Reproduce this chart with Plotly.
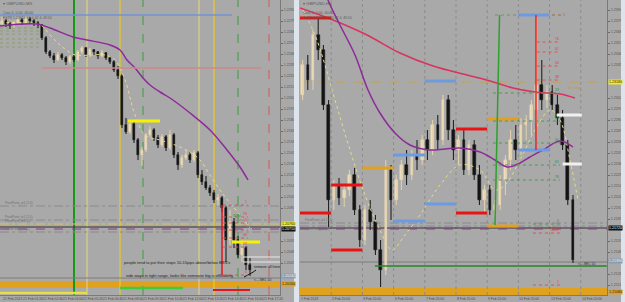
import plotly.graph_objects as go

# ================= LEFT PANEL : GBPUSD, M5 =================
L_open = [
    1.2276, 1.2279, 1.2276, 1.2274, 1.2277, 1.2280, 1.2278, 1.2281, 1.2279, 1.2277,
    1.2275, 1.2262, 1.2248, 1.2244, 1.2240, 1.2245, 1.2242, 1.2238, 1.2243, 1.2240,
    1.2248, 1.2252, 1.2245, 1.2250, 1.2248, 1.2244, 1.2247, 1.2242, 1.2238, 1.2230,
    1.2224, 1.2175, 1.2168, 1.2176, 1.2160, 1.2145, 1.2150, 1.2165, 1.2170, 1.2162,
    1.2155, 1.2163, 1.2152, 1.2165, 1.2145, 1.2135, 1.2142, 1.2145, 1.2140, 1.2147,
    1.2125, 1.2118, 1.2112, 1.2107, 1.2100, 1.2102, 1.2092, 1.2060, 1.2078, 1.2060,
    1.2045, 1.2052, 1.2035]
L_high = [
    1.2283, 1.2281, 1.2278, 1.2279, 1.2283, 1.2282, 1.2284, 1.2283, 1.2281, 1.2279,
    1.2276, 1.2264, 1.2250, 1.2247, 1.2248, 1.2247, 1.2244, 1.2245, 1.2245, 1.2250,
    1.2254, 1.2253, 1.2252, 1.2251, 1.2249, 1.2250, 1.2248, 1.2244, 1.2240, 1.2234,
    1.2226, 1.2182, 1.2180, 1.2178, 1.2162, 1.2153, 1.2167, 1.2174, 1.2172, 1.2165,
    1.2166, 1.2165, 1.2170, 1.2167, 1.2148, 1.2145, 1.2150, 1.2148, 1.2150, 1.2149,
    1.2130, 1.2124, 1.2115, 1.2110, 1.2106, 1.2104, 1.2094, 1.2090, 1.2082, 1.2064,
    1.2057, 1.2054, 1.2042]
L_low = [
    1.2274, 1.2273, 1.2271, 1.2272, 1.2276, 1.2275, 1.2277, 1.2276, 1.2274, 1.2272,
    1.2260, 1.2246, 1.2242, 1.2237, 1.2239, 1.2240, 1.2235, 1.2236, 1.2238, 1.2239,
    1.2246, 1.2243, 1.2243, 1.2245, 1.2241, 1.2243, 1.2240, 1.2236, 1.2228, 1.2221,
    1.2172, 1.2166, 1.2166, 1.2157, 1.2140, 1.2134, 1.2148, 1.2163, 1.2159, 1.2152,
    1.2153, 1.2149, 1.2150, 1.2142, 1.2130, 1.2132, 1.2140, 1.2137, 1.2138, 1.2122,
    1.2115, 1.2110, 1.2104, 1.2097, 1.2094, 1.2088, 1.2038, 1.2055, 1.2052, 1.2042,
    1.2038, 1.2030, 1.2024]
L_close = [
    1.2279, 1.2276, 1.2274, 1.2277, 1.2280, 1.2278, 1.2281, 1.2279, 1.2277, 1.2275,
    1.2262, 1.2248, 1.2244, 1.2240, 1.2245, 1.2242, 1.2238, 1.2243, 1.2240, 1.2248,
    1.2252, 1.2245, 1.2250, 1.2248, 1.2244, 1.2247, 1.2242, 1.2238, 1.2230, 1.2224,
    1.2175, 1.2168, 1.2176, 1.2160, 1.2145, 1.2150, 1.2165, 1.2170, 1.2162, 1.2155,
    1.2163, 1.2152, 1.2165, 1.2145, 1.2135, 1.2142, 1.2145, 1.2140, 1.2147, 1.2125,
    1.2118, 1.2112, 1.2107, 1.2100, 1.2102, 1.2092, 1.2060, 1.2078, 1.2060, 1.2045,
    1.2052, 1.2035, 1.2030]

# moving averages (bar position, price)
L_ma_slow_x = [-0.5, 8.75, 12, 17.75, 21.25, 27, 29.5, 31.25, 33.25, 35.25, 37, 39.5, 42, 47, 52, 56.25, 59.5, 61.5]
L_ma_slow_y = [1.2274, 1.2276, 1.2272, 1.2263, 1.2260, 1.2255, 1.2250, 1.2240, 1.2232, 1.2222, 1.2215,
               1.2208, 1.2202, 1.2187, 1.2170, 1.2150, 1.2133, 1.2120]
L_ma_fast_x = [-0.5, 9.5, 12, 14.5, 18.25, 22, 25.75, 28.25, 30.75, 33.25, 35.75, 39.5, 43.25, 47, 49.5,
               52, 54.5, 57, 59.5, 62]
L_ma_fast_y = [1.2277, 1.2275, 1.2265, 1.2255, 1.2245, 1.2245, 1.2245, 1.2240, 1.2220, 1.2185, 1.2165,
               1.2160, 1.2155, 1.2148, 1.2140, 1.2125, 1.2110, 1.2097, 1.2085, 1.2072]

# horizontal segments
L_seg_x0 = [-0.5, 10.0, 31.5, 57.5, 60.25, 60.25, 29.5, -0.5, 52.75]
L_seg_x1 = [57.5, 64.75, 39.5, 64.5, 69.5, 69.5, 45.25, 21.25, 62.0]
L_seg_y = [1.2285, 1.2232, 1.2179, 1.2058, 1.2043, 1.2038, 1.2012, 1.2007, 1.2010]
# full width levels
L_full_y = [1.2094, 1.2080, 1.2076, 1.2073, 1.2071, 1.2068, 1.2022]
L_pivot_lbl = ["PivotPoint_w1 (1.5)", "PivotPoint_w1 (1.5)", "PivotPoint_m1 (2)", "", "", "PivotPoint_d1 (1)", ""]
# vertical lines
L_vline_x = [18.0, 21.25, 29.5, 35.25, 49.25, 53.0, 59.0, 66.75]
# fibonacci style levels
L_fib_y = [1.2095, 1.2083, 1.2077, 1.2070, 1.2062, 1.2053, 1.2025]
L_fib_lbl = ["1", "76", "61", "50", "38", "23", "0"]
L_fib_x = [55.25, 61.5]
L_red_v = [55.0, 1.2095, 1.2025]
L_dot_y = [1.2272, 1.2269, 1.2266, 1.2261, 1.2257, 1.2253]
L_band = [1.2012, 1.2019]
L_arrow_x = [60.5, 62.8, 63.5]
L_arrow_y = [1.2023, 1.2028, 1.2030]
L_axis_box_y = [1.2076, 1.2071, 1.2024, 1.2016]
L_date_bar = [0, 5, 10, 15, 20, 25, 30, 35, 40, 45, 50, 55, 60, 65]
L_date_txt = ["21 Feb 2023", "21 Feb 01:20", "21 Feb 02:40", "21 Feb 04:00", "21 Feb 05:20",
              "21 Feb 06:40", "21 Feb 08:00", "21 Feb 09:20", "21 Feb 10:40", "21 Feb 12:00",
              "21 Feb 13:20", "21 Feb 14:40", "21 Feb 16:00", "21 Feb 17:20"]
L_ticks = [1.2290, 1.2279, 1.2268, 1.2257, 1.2246, 1.2235, 1.2224, 1.2213, 1.2202, 1.2191, 1.2180,
           1.2169, 1.2158, 1.2147, 1.2136, 1.2125, 1.2114, 1.2103, 1.2092, 1.2081, 1.2070,
           1.2059, 1.2048, 1.2037, 1.2026, 1.2015]

# ================= RIGHT PANEL : GBPUSD, H4 =================
R_open = [
    1.2305, 1.2335, 1.2320, 1.2365, 1.2350, 1.2295, 1.2200, 1.2215, 1.2202, 1.2210,
    1.2225, 1.2190, 1.2160, 1.2190, 1.2178, 1.2150, 1.2130, 1.2230, 1.2200, 1.2220,
    1.2235, 1.2225, 1.2245, 1.2240, 1.2260, 1.2250, 1.2275, 1.2260, 1.2300, 1.2270,
    1.2250, 1.2260, 1.2230, 1.2255, 1.2225, 1.2200, 1.2210, 1.2190, 1.2195, 1.2220,
    1.2240, 1.2260, 1.2250, 1.2275, 1.2280, 1.2290, 1.2315, 1.2300, 1.2308, 1.2295,
    1.2282, 1.2255, 1.2200]
R_high = [
    1.2340, 1.2345, 1.2370, 1.2382, 1.2355, 1.2300, 1.2220, 1.2222, 1.2215, 1.2230,
    1.2232, 1.2195, 1.2195, 1.2200, 1.2185, 1.2160, 1.2240, 1.2235, 1.2225, 1.2240,
    1.2250, 1.2250, 1.2260, 1.2265, 1.2270, 1.2280, 1.2285, 1.2305, 1.2305, 1.2280,
    1.2265, 1.2270, 1.2260, 1.2260, 1.2235, 1.2215, 1.2215, 1.2200, 1.2225, 1.2245,
    1.2270, 1.2275, 1.2282, 1.2285, 1.2300, 1.2382, 1.2340, 1.2315, 1.2315, 1.2305,
    1.2290, 1.2260, 1.2205]
R_low = [
    1.2300, 1.2310, 1.2310, 1.2340, 1.2290, 1.2173, 1.2190, 1.2195, 1.2193, 1.2204,
    1.2185, 1.2153, 1.2155, 1.2170, 1.2145, 1.2113, 1.2125, 1.2180, 1.2195, 1.2210,
    1.2215, 1.2220, 1.2230, 1.2235, 1.2240, 1.2245, 1.2250, 1.2255, 1.2260, 1.2240,
    1.2235, 1.2225, 1.2225, 1.2220, 1.2195, 1.2187, 1.2185, 1.2183, 1.2190, 1.2205,
    1.2230, 1.2240, 1.2245, 1.2260, 1.2265, 1.2275, 1.2290, 1.2292, 1.2290, 1.2275,
    1.2250, 1.2195, 1.2137]
R_close = [
    1.2335, 1.2320, 1.2365, 1.2350, 1.2295, 1.2200, 1.2215, 1.2202, 1.2210, 1.2225,
    1.2190, 1.2160, 1.2190, 1.2178, 1.2150, 1.2130, 1.2230, 1.2200, 1.2220, 1.2235,
    1.2225, 1.2245, 1.2240, 1.2260, 1.2250, 1.2275, 1.2260, 1.2300, 1.2270, 1.2250,
    1.2260, 1.2230, 1.2255, 1.2225, 1.2200, 1.2210, 1.2190, 1.2195, 1.2220, 1.2240,
    1.2260, 1.2250, 1.2275, 1.2280, 1.2295, 1.2315, 1.2300, 1.2308, 1.2295, 1.2282,
    1.2255, 1.2200, 1.2140]

R_ma_slow_x = [3.73, 4.88, 7.19, 10.08, 12.58, 14.88, 17.77, 20.65, 24.5, 27.38, 30.27, 34.12, 37,
               39.31, 41.81, 43.73, 46.23, 49.5, 52]
R_ma_slow_y = [1.2420, 1.2400, 1.2375, 1.2345, 1.2310, 1.2287, 1.2267, 1.2255, 1.2250, 1.2251, 1.2252,
               1.2248, 1.2240, 1.2233, 1.2237, 1.2243, 1.2250, 1.2259, 1.2253]
R_ma_long_x = [-0.5, 5.85, 12.38, 18.73, 25.08, 31.62, 36.04, 40.46, 44.69, 49.5, 52.38]
R_ma_long_y = [1.2392, 1.2380, 1.2365, 1.2347, 1.2334, 1.2325, 1.2319, 1.2312, 1.2308, 1.2306, 1.2302]
R_ma_fast_x = [0.08, 2.38, 4.31, 6.23, 9.12, 12, 14.88, 17.19, 19.69, 22.58, 26.42, 30.27, 34.12, 37,
               38.92, 41.81, 44.69, 47.58, 49.5, 51.42, 52.96]
R_ma_fast_y = [1.2390, 1.2365, 1.2335, 1.2300, 1.2250, 1.2205, 1.2170, 1.2150, 1.2165, 1.2185, 1.2215,
               1.2235, 1.2230, 1.2210, 1.2215, 1.2240, 1.2270, 1.2290, 1.2280, 1.2240, 1.2200]

# previous-day high / low segments
R_day_x0 = [-0.5, -0.5, 5.5, 5.5, 11.5, 17.5, 17.5, 23.5, 23.5, 29.5, 29.5, 35.5, 35.5, 41.5, 41.5, 48.9, 50.0]
R_day_x1 = [5.5, 5.5, 11.5, 11.5, 17.5, 23.5, 23.5, 29.5, 29.5, 35.5, 35.5, 41.5, 41.5, 47.5, 47.5, 53.7, 53.7]
R_day_y = [1.2382, 1.2187, 1.2215, 1.2150, 1.2232, 1.2245, 1.2179, 1.2319, 1.2196, 1.2271, 1.2187,
           1.2281, 1.2174, 1.2385, 1.2250, 1.2285, 1.2236]
R_day_kind = ["r", "r", "r", "r", "o", "b", "b", "b", "b", "r", "r", "o", "o", "b", "b", "w", "w"]
R_full_y = [1.2318, 1.2177, 1.2174, 1.2172, 1.2171, 1.2138]
R_green_h = [13.9, 58.5, 1.2134]
R_sep_x = [5.5, 11.5, 17.5, 23.5, 29.5, 35.5, 41.5, 47.5, 53.5]
R_green_v = [37.88, 1.2385, 37.0, 1.2175]
R_red_v = [44.88, 1.2385, 1.2250]
R_top_dot = [37.0, 41.8, 47.96, 49.88, 1.2385]
R_rfib_y = [1.2358, 1.2348, 1.2334, 1.2320, 1.2167, 1.2115]
R_rfib_lbl = ["76", "61", "50", "38", "161.8", "1"]
R_rfib_x0 = [45.0, 45.0, 45.0, 45.0, 44.3, 44.3]
R_gfib_y = [1.2307, 1.2279, 1.2257, 1.2235, 1.2220, 1.2176]
R_gfib_lbl = ["23", "38", "50", "61", "76", "0"]
R_gfib_x0 = [36.6, 36.6, 36.6, 36.6, 36.6, 44.3]
R_fib_x1 = 49.5
R_band = [1.2103, 1.2112]
R_axis_box_y = [1.2318, 1.2172, 1.2139, 1.2108]
R_date_bar = [-0.5, 5.5, 11.5, 17.5, 23.5, 29.5, 35.5, 41.5, 47.5, 53.5]
R_date_txt = ["1 Feb 2023", "2 Feb 20:00", "3 Feb 20:00", "6 Feb 20:00", "7 Feb 20:00",
              "8 Feb 20:00", "9 Feb 20:00", "10 Feb 20:00", "13 Feb 20:00", "14 Feb 20:00"]
R_ticks = [1.2390, 1.2379, 1.2368, 1.2357, 1.2346, 1.2335, 1.2324, 1.2313, 1.2302, 1.2291, 1.2280,
           1.2269, 1.2258, 1.2247, 1.2236, 1.2225, 1.2214, 1.2203, 1.2192, 1.2181, 1.2170,
           1.2159, 1.2148, 1.2137, 1.2126, 1.2115]

# ================= styling =================
W, H = 625, 302
BG = "#a9a9a9"
FONT = "Liberation Sans, Arial, sans-serif"
BULL, BULL_FILL, BEAR = "#e6d3ac", "#f0e0bf", "#151515"
L_TOP, R_TOP, SPAN = 1.2300, 1.2400, 0.0295
L_DOM = [0, 280 / W]
R_DOM = [300 / W, 607 / W]
Y_DOM = [7 / H, 1]

fig = go.Figure()


def candles(o, h, l, c, xa, ya, body_w):
    xs = list(range(len(o)))
    up = [ci >= oi for oi, ci in zip(o, c)]
    for flag, col in ((True, BULL), (False, BEAR)):
        wx, wy = [], []
        for i in xs:
            if up[i] == flag:
                wx += [i, i, None]
                wy += [l[i], h[i], None]
        fig.add_trace(go.Scatter(x=wx, y=wy, xaxis=xa, yaxis=ya, mode="lines",
                                 line=dict(color=col, width=1), showlegend=False, hoverinfo="skip"))
    fig.add_trace(go.Bar(
        x=xs, y=[max(abs(ci - oi), 0.00006) for oi, ci in zip(o, c)],
        base=[min(oi, ci) for oi, ci in zip(o, c)], width=body_w, xaxis=xa, yaxis=ya,
        marker=dict(color=[BULL_FILL if u else BEAR for u in up],
                    line=dict(color=[BULL if u else BEAR for u in up], width=0.5)),
        showlegend=False, hoverinfo="skip"))


def line_tr(x, y, xa, ya, color, width=1.3, dash="solid"):
    fig.add_trace(go.Scatter(x=x, y=y, xaxis=xa, yaxis=ya, mode="lines",
                             line=dict(color=color, width=width, dash=dash, shape="spline"),
                             showlegend=False, hoverinfo="skip"))


def seg(xr, yr, x0, x1, y0, y1, color, width=1, dash="solid", layer="above"):
    fig.add_shape(type="line", xref=xr, yref=yr, x0=x0, x1=x1, y0=y0, y1=y1, layer=layer,
                  line=dict(color=color, width=width, dash=dash))


def txt(x, y, s, xr, yr, size=3.6, color="#505050", xa="left", ya="middle", **kw):
    fig.add_annotation(x=x, y=y, xref=xr, yref=yr, text=s, showarrow=False,
                       font=dict(family=FONT, size=size, color=color),
                       xanchor=xa, yanchor=ya, borderpad=0, **kw)


# ---------- LEFT ----------
fig.add_shape(type="rect", xref="x domain", yref="y", x0=0, x1=1, y0=L_band[0], y1=L_band[1],
              fillcolor="#e0a21e", line=dict(width=0), layer="below")
vl_color = ["#169a16", "#d9cc80", "#e6c82a", "#3c9a3c", "#d9cc80", "#e6c82a", "#3c9a3c", "#cf5a5a"]
vl_dash = ["solid", "solid", "solid", "dash", "solid", "solid", "dash", "dash"]
vl_w = [2, 1.3, 1.3, 1, 1.3, 1.3, 1, 1]
for xv, c, d, w in zip(L_vline_x, vl_color, vl_dash, vl_w):
    seg("x", "y domain", xv, xv, 0, 1, c, w, d, layer="below")
lf_color = ["#8a8a8a", "#8a8a8a", "#cfc468", "#303030", "#8a3a8a", "#8a8a8a", "#7c7c7c"]
lf_dash = ["dashdot", "dashdot", "dashdot", "solid", "dash", "dashdot", "solid"]
for yv, c, d, lb in zip(L_full_y, lf_color, lf_dash, L_pivot_lbl):
    seg("x domain", "y", 0, 1, yv, yv, c, 1, d, layer="below")
    if lb:
        txt(0.6, yv, lb, "x", "y", size=3.2, color="#6e6e6e", ya="bottom")
for yv in L_dot_y:
    seg("x", "y", -0.5, 10, yv, yv, "#8d9c74", 1, "dot", layer="below")

candles(L_open, L_high, L_low, L_close, "x", "y", 0.55)
line_tr(L_ma_fast_x, L_ma_fast_y, "x", "y", "#e3dc8c", 1, "dot")
line_tr(L_ma_slow_x, L_ma_slow_y, "x", "y", "#8e2a9a", 1.5)

ls_color = ["#7393d3", "#cc8a8a", "#f4f200", "#f4f200", "#e8e8e8", "#e8e8e8", "#3ccc3c", "#e6e046", "#e01818"]
ls_w = [1.5, 1.5, 3, 3, 1, 1, 2.5, 2.5, 2]
for x0, x1, yv, c, w in zip(L_seg_x0, L_seg_x1, L_seg_y, ls_color, ls_w):
    seg("x", "y", x0, x1, yv, yv, c, w)
for yv, lb in zip(L_fib_y, L_fib_lbl):
    seg("x", "y", L_fib_x[0], L_fib_x[1], yv, yv, "#e05050", 1, "dot")
    txt(L_fib_x[1], yv, lb, "x", "y", size=3.4, color="#e03a3a", xa="right", ya="bottom")
txt(60.0, 1.2081, "W/W", "x", "y", size=3.4, color="#2e9a2e", xa="right", ya="bottom")
seg("x", "y", L_red_v[0], L_red_v[0], L_red_v[1], L_red_v[2], "#e01818", 1.5)
line_tr(L_arrow_x, L_arrow_y, "x", "y", "#111111", 1)

txt(30.25, 1.2038, "people tend to put their stops 10-15pips above/below BRN's", "x", "y", size=4, color="#1e1e1e")
txt(30.75, 1.2025, "side ways in tight range, looks like someone big is offloading", "x", "y", size=4, color="#1e1e1e")
txt(62.75, 1.2030, "remove all here", "x", "y", size=3.8, color="#1e1e1e", ya="bottom")
txt(62.75, 1.2020, "<---SEL 10", "x", "y", size=3.6, color="#303030")

# ---------- RIGHT ----------
fig.add_shape(type="rect", xref="x2 domain", yref="y2", x0=0, x1=1, y0=R_band[0], y1=R_band[1],
              fillcolor="#e0a21e", line=dict(width=0), layer="below")
for xv in R_sep_x:
    seg("x2", "y2 domain", xv, xv, 0, 1, "#8b8b8b", 1, "dot", layer="below")
rf_color = ["#c9a244", "#8a8a8a", "#8a8a8a", "#303030", "#8a3a8a", "#7c7c7c"]
rf_dash = ["dash", "dashdot", "dashdot", "solid", "dash", "solid"]
for yv, c, d in zip(R_full_y, rf_color, rf_dash):
    seg("x2 domain", "y2", 0, 1, yv, yv, c, 1, d, layer="below")
txt(0.3, 1.2177, "PivotPoint_w1 (1.5)", "x2", "y2", size=3.2, color="#6e6e6e", ya="bottom")
txt(0.3, 1.2174, "PivotPoint_d1 (1)", "x2", "y2", size=3.2, color="#6e6e6e", ya="top")

candles(R_open, R_high, R_low, R_close, "x2", "y2", 0.5)
line_tr(R_ma_fast_x, R_ma_fast_y, "x2", "y2", "#e3dc8c", 1, "dot")
line_tr(R_ma_long_x, R_ma_long_y, "x2", "y2", "#d8335e", 1.5)
line_tr(R_ma_slow_x, R_ma_slow_y, "x2", "y2", "#8e2a9a", 1.5)

kind_color = {"r": "#e81414", "o": "#e0a020", "b": "#6b9be3", "w": "#f0f0f0"}
for x0, x1, yv, k in zip(R_day_x0, R_day_x1, R_day_y, R_day_kind):
    seg("x2", "y2", x0, x1, yv, yv, kind_color[k], 3)
seg("x2", "y2", R_green_h[0], R_green_h[1], R_green_h[2], R_green_h[2], "#26862a", 1.5)
seg("x2", "y2", R_green_v[0], R_green_v[2], R_green_v[1], R_green_v[3], "#2ea02e", 1.5)
seg("x2", "y2", R_red_v[0], R_red_v[0], R_red_v[1], R_red_v[2], "#f02020", 1.5)
seg("x2", "y2", R_top_dot[0], R_top_dot[1], R_top_dot[4], R_top_dot[4], "#5aa05a", 1, "dot")
seg("x2", "y2", R_top_dot[2], R_top_dot[3], R_top_dot[4], R_top_dot[4], "#9a6a3a", 1, "dot")
txt(R_top_dot[3], R_top_dot[4], "1", "x2", "y2", size=3.6, color="#9a5a2a", xa="left")
for yv, lb, x0 in zip(R_rfib_y, R_rfib_lbl, R_rfib_x0):
    seg("x2", "y2", x0, R_fib_x1, yv, yv, "#e05050", 1, "dot")
    txt(R_fib_x1, yv, lb, "x2", "y2", size=3.4, color="#e03a3a", xa="right", ya="bottom")
for yv, lb, x0 in zip(R_gfib_y, R_gfib_lbl, R_gfib_x0):
    seg("x2", "y2", x0, R_fib_x1, yv, yv, "#4e9a4e", 1, "dot")
    txt(R_fib_x1, yv, lb, "x2", "y2", size=3.4, color="#2e8a2e", xa="right", ya="bottom")
txt(50.8, 1.2315, "R1 range", "x2", "y2", size=3.4, color="#c09a3a", ya="top")
txt(52.8, 1.2136, "<---SEL 10", "x2", "y2", size=3.6, color="#303030")

# ---------- titles / axis boxes / dates ----------
for x0, t in ((2, "▾ GBPUSD,M5"), (302, "▾ GBPUSD,H4")):
    txt(x0 / W, 1 - 4 / H, t, "paper", "paper", size=4.4, color="#5a5a5a")
    txt(x0 / W, 1 - 13 / H, "Conj 0, 0.00, 40.00", "paper", "paper", size=3.6, color="#5a5a5a")
    txt(x0 / W, 1 - 18 / H, "ESTR 1.20912 9 1.0 42 4, 49.50", "paper", "paper", size=3.4, color="#5a5a5a")

box_bg = ["#f0ea2a", "#111111", "#8c9cb0", "#e0a21e"]
box_fg = ["#222222", "#f0f0f0", "#f0f0f0", "#222222"]
for yv, bg, fg in zip(L_axis_box_y, box_bg, box_fg):
    txt(281 / W, yv, f"{yv:.5f}", "paper", "y", size=3.6, color=fg, bgcolor=bg)
for yv, bg, fg in zip(R_axis_box_y, box_bg, box_fg):
    txt(608 / W, yv, f"{yv:.5f}", "paper", "y2", size=3.6, color=fg, bgcolor=bg)

for b, t in zip(L_date_bar, L_date_txt):
    txt(b, 3.5 / H, t, "x", "paper", size=3.4, color="#4a4a4a")
for b, t in zip(R_date_bar, R_date_txt):
    txt(b, 3.5 / H, t, "x2", "paper", size=3.4, color="#4a4a4a")

# panel separators
for x0, x1 in ((294, 299), (621, 625)):
    fig.add_shape(type="rect", xref="paper", yref="paper", x0=x0 / W, x1=x1 / W, y0=0, y1=1,
                  fillcolor="#dde4ec", line=dict(width=0))


def free_ticks(ticks, boxes):
    # drop tick labels that would sit under a highlighted price box
    return [t for t in ticks if all(abs(t - b) > 0.0006 for b in boxes)]


xcommon = dict(showgrid=False, zeroline=False, showticklabels=False, fixedrange=True,
               showline=True, linecolor="#7a7a7a", linewidth=1, ticks="")
ycommon = dict(showgrid=False, zeroline=False, side="right", tickformat=".5f",
               ticks="outside", ticklen=2, tickcolor="#6a6a6a", showline=True, linecolor="#7a7a7a",
               linewidth=1, tickfont=dict(family=FONT, size=3.6, color="#555555"), fixedrange=True)
fig.update_layout(
    width=W, height=H, margin=dict(l=0, r=0, t=0, b=0),
    paper_bgcolor=BG, plot_bgcolor=BG, showlegend=False, bargap=0,
    xaxis=dict(domain=L_DOM, range=[-0.5, 69.5], anchor="y", **xcommon),
    yaxis=dict(domain=Y_DOM, range=[L_TOP - SPAN, L_TOP], anchor="x",
               tickvals=free_ticks(L_ticks, L_axis_box_y), **ycommon),
    xaxis2=dict(domain=R_DOM, range=[-0.5, 58.54], anchor="y2", **xcommon),
    yaxis2=dict(domain=Y_DOM, range=[R_TOP - SPAN, R_TOP], anchor="x2",
                tickvals=free_ticks(R_ticks, R_axis_box_y), **ycommon),
)

fig.write_html("out.html")
